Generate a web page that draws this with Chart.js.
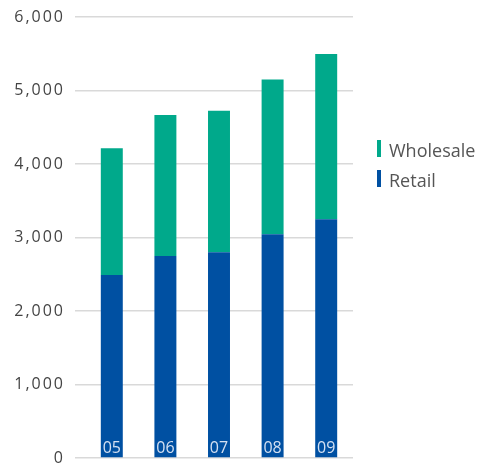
<!DOCTYPE html>
<html>
<head>
<meta charset="utf-8">
<script src="https://cdn.jsdelivr.net/npm/chart.js@4/dist/chart.umd.min.js"></script>
<style>
  html, body { margin: 0; padding: 0; background: #ffffff; }
  #wrap { width: 481px; height: 466px; }
</style>
</head>
<body>
<div id="wrap"><canvas id="chart" width="481" height="466"></canvas></div>
<script>
// Sales by year, split into retail and wholesale
const categories = ['05', '06', '07', '08', '09'];
const retail = [2490, 2750, 2800, 3045, 3250];
const wholesale = [1725, 1915, 1925, 2105, 2245];
const yTicks = [0, 1000, 2000, 3000, 4000, 5000, 6000];

const BLUE = '#0050a2';
const TEAL = '#00a98b';
const GRID = '#d9d9d9';
const FONT = "'Open Sans', 'Noto Sans', sans-serif";

// Slightly tracked tick numbers on the value axis
const trackedTicks = {
  id: 'trackedTicks',
  beforeDraw(chart) { chart.ctx.letterSpacing = '2px'; },
  beforeDatasetsDraw(chart) { chart.ctx.letterSpacing = '0px'; }
};

// Year labels written inside the foot of each bar
const yearLabels = {
  id: 'yearLabels',
  afterDatasetsDraw(chart) {
    const { ctx } = chart;
    const x = chart.scales.x, y = chart.scales.y;
    ctx.save();
    ctx.font = '16px ' + FONT;
    ctx.fillStyle = '#d3e0f2';
    ctx.textAlign = 'center';
    ctx.textBaseline = 'alphabetic';
    chart.data.labels.forEach((lab, i) => {
      ctx.fillText(lab, x.getPixelForValue(i), y.getPixelForValue(0) - 5);
    });
    ctx.restore();
  }
};

// Legend at the right, top series listed first
const sideLegend = {
  id: 'sideLegend',
  afterDraw(chart) {
    const { ctx } = chart;
    const sets = chart.data.datasets.slice().reverse();
    ctx.save();
    ctx.font = '18px ' + FONT;
    ctx.textAlign = 'left';
    ctx.textBaseline = 'alphabetic';
    sets.forEach((ds, i) => {
      const base = 157 + i * 30;
      ctx.fillStyle = ds.backgroundColor;
      ctx.fillRect(377, base - 17, 4, 17);
      ctx.fillStyle = '#555555';
      ctx.fillText(ds.label, 389, base);
    });
    ctx.restore();
  }
};

new Chart(document.getElementById('chart'), {
  type: 'bar',
  data: {
    labels: categories,
    datasets: [
      { label: 'Retail', data: retail, backgroundColor: BLUE, borderWidth: 0 },
      { label: 'Wholesale', data: wholesale, backgroundColor: TEAL, borderWidth: 0 }
    ]
  },
  options: {
    responsive: false,
    animation: false,
    events: [],
    layout: { padding: { left: 0, right: 128, top: 17, bottom: 8 } },
    datasets: { bar: { barPercentage: 0.41, categoryPercentage: 1 } },
    plugins: { legend: { display: false }, tooltip: { enabled: false } },
    scales: {
      x: {
        stacked: true,
        display: true,
        border: { display: false },
        grid: { display: false, drawTicks: false, tickLength: 0 },
        ticks: { display: false, padding: 0 }
      },
      y: {
        stacked: true,
        min: 0,
        max: 6000,
        afterFit(scale) { scale.width = 85; scale.paddingTop = 0; scale.paddingBottom = 0; },
        afterBuildTicks(scale) { scale.ticks = yTicks.map(v => ({ value: v })); },
        border: { display: false },
        grid: { color: GRID, lineWidth: 1.5, tickLength: 10, tickColor: GRID },
        ticks: {
          padding: 10,
          color: '#444444',
          font: { family: FONT, size: 16, lineHeight: 1 },
          callback: v => v.toLocaleString('en-US')
        }
      }
    }
  },
  plugins: [trackedTicks, yearLabels, sideLegend]
});
</script>
</body>
</html>
